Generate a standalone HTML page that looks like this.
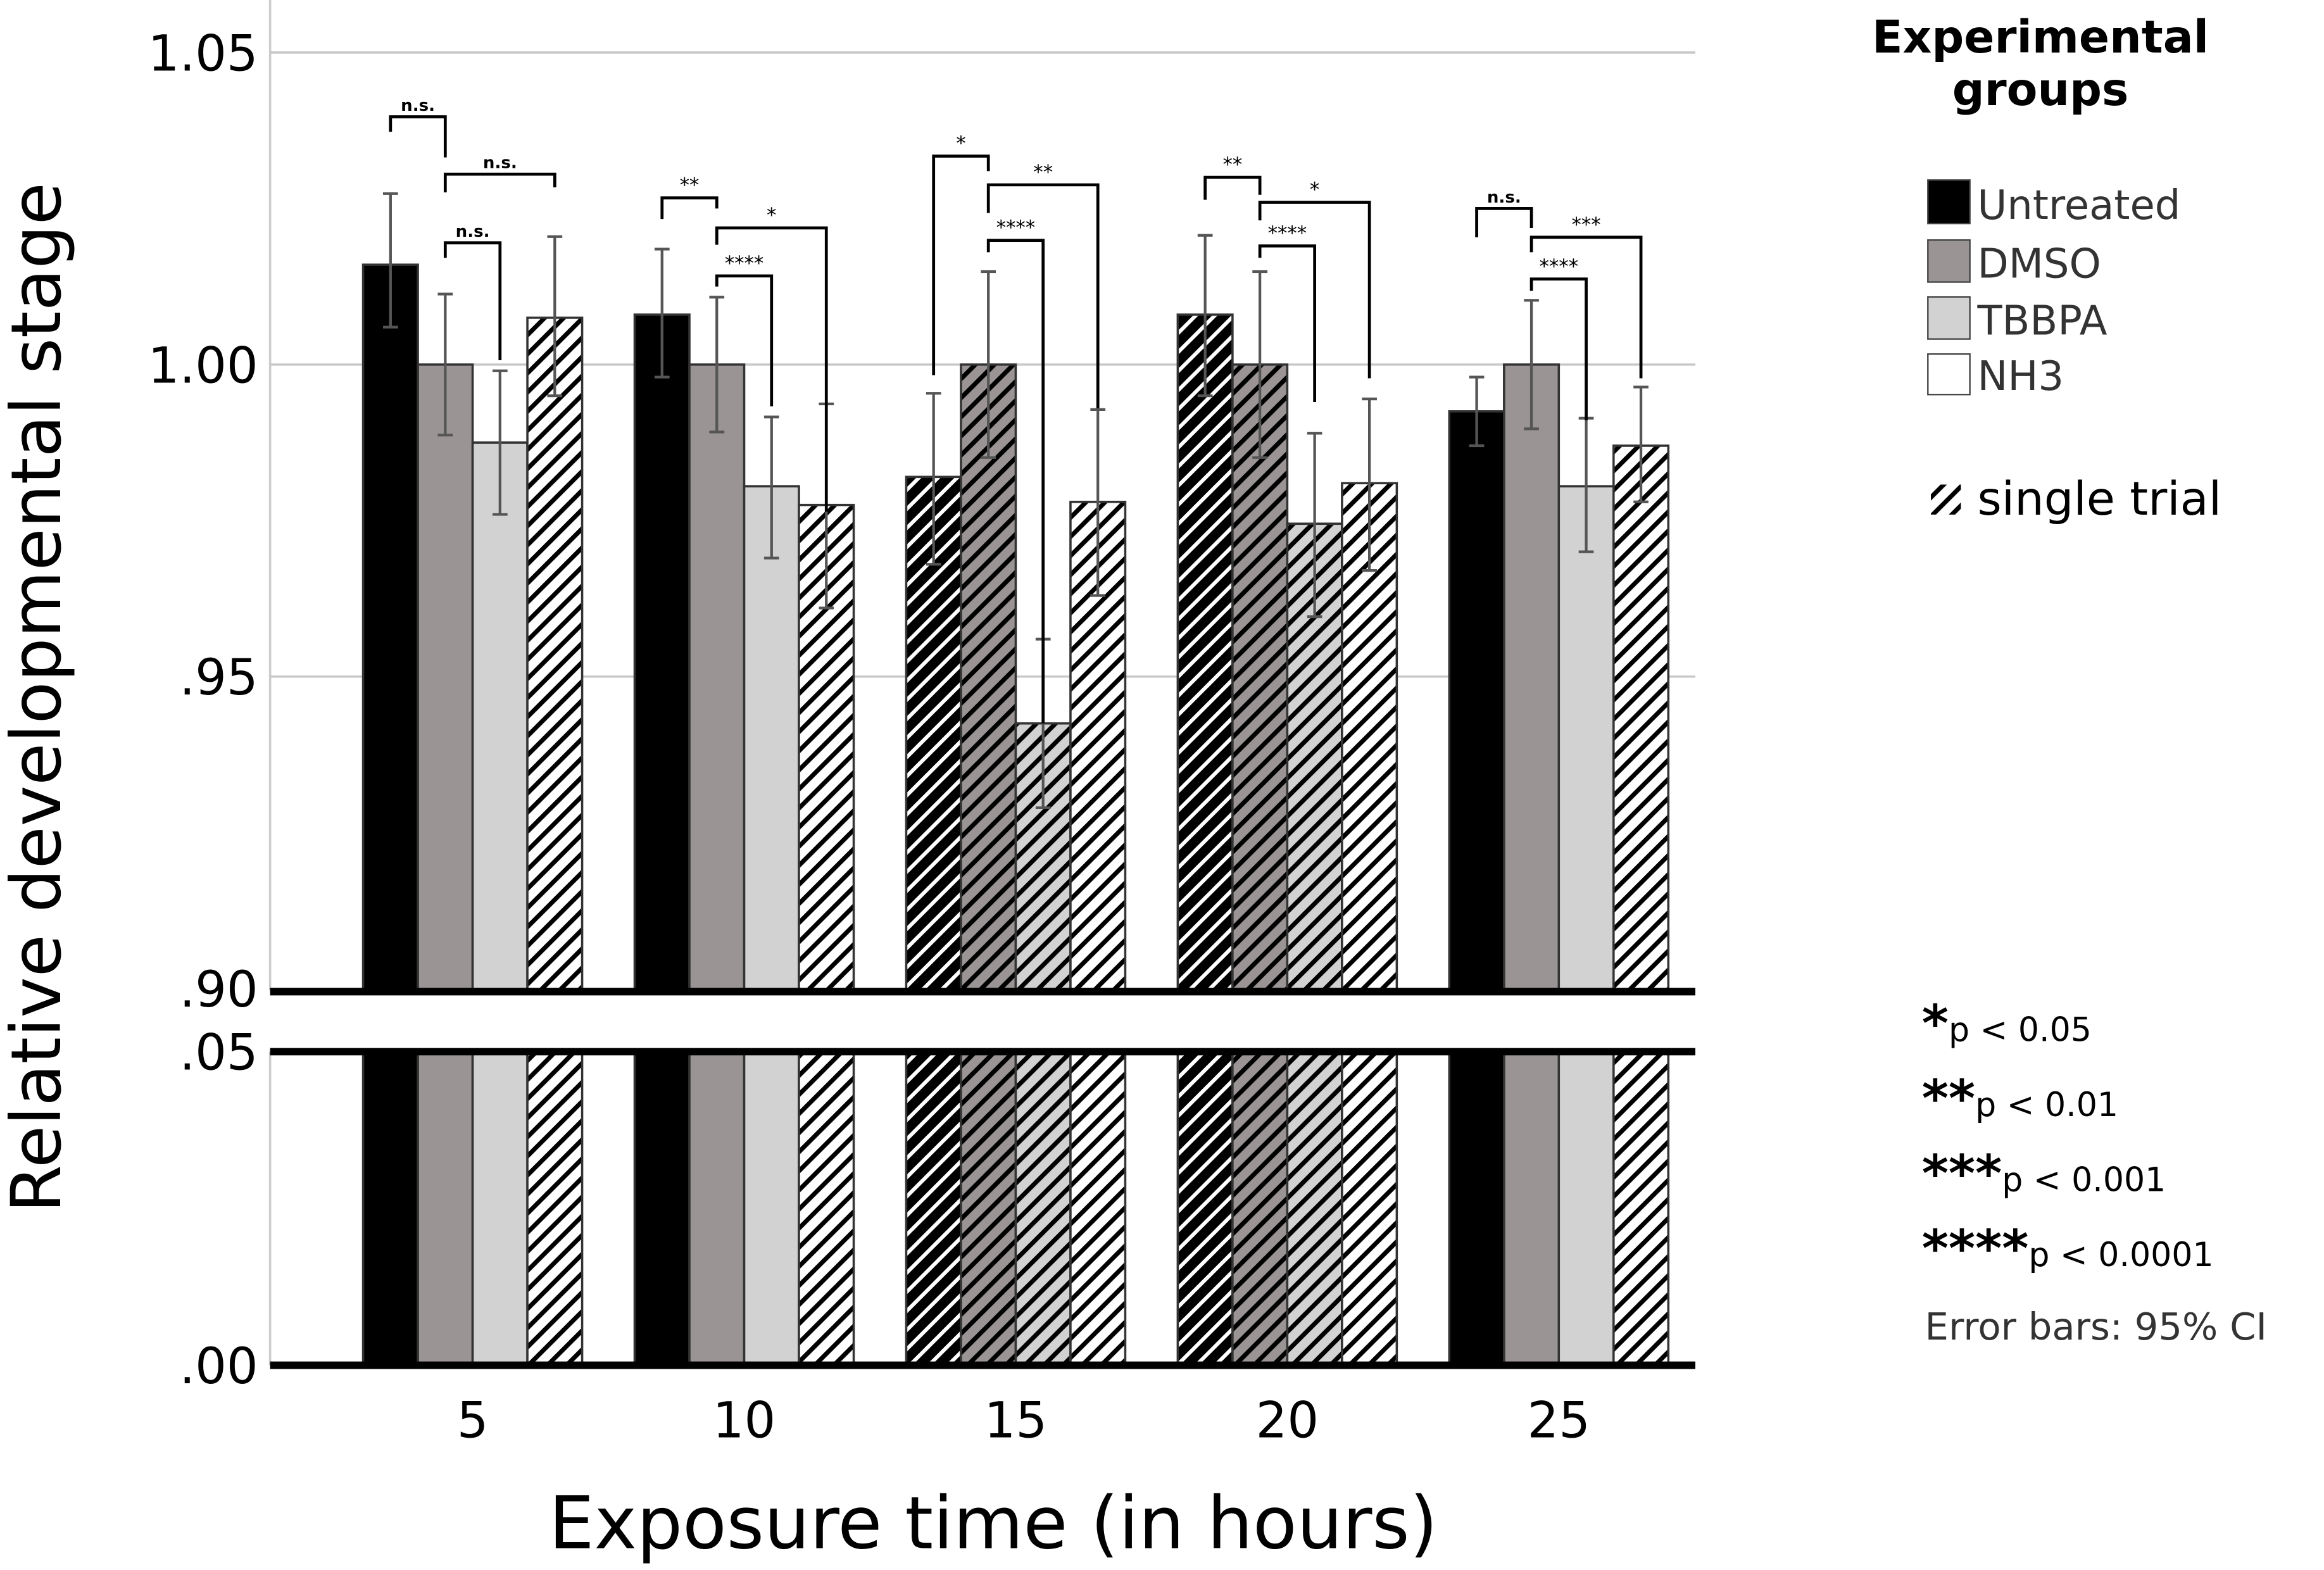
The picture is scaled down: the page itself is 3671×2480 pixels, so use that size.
<!DOCTYPE html>
<html><head><meta charset="utf-8"><style>html,body{margin:0;padding:0;background:#fff}svg{display:block}text{font-family:"DejaVu Sans","Liberation Sans",sans-serif}</style></head>
<body>
<svg id="chart" xmlns="http://www.w3.org/2000/svg" width="3671" height="2480" viewBox="0 0 1549 1046.5">
<defs>
<pattern id="h-black" patternUnits="userSpaceOnUse" width="9" height="9" patternTransform="rotate(45)"><rect width="9" height="9" fill="#000"/><rect x="0" y="0" width="2.5" height="9" fill="#fff"/></pattern>
<pattern id="h-grey" patternUnits="userSpaceOnUse" width="9" height="9" patternTransform="rotate(45)"><rect width="9" height="9" fill="#9a9494"/><rect x="0" y="0" width="3" height="9" fill="#000"/></pattern>
<pattern id="h-light" patternUnits="userSpaceOnUse" width="9" height="9" patternTransform="rotate(45)"><rect width="9" height="9" fill="#d2d2d2"/><rect x="0" y="0" width="3" height="9" fill="#000"/></pattern>
<pattern id="h-white" patternUnits="userSpaceOnUse" width="9" height="9" patternTransform="rotate(45)"><rect width="9" height="9" fill="#fff"/><rect x="0" y="0" width="3" height="9" fill="#000"/></pattern>
</defs>
<g id="grid"></g>
<g id="bars"></g>
<g id="errs"></g>
<g id="sig"></g>
<g id="axes"></g>
<text transform="translate(40,465) rotate(-90)" text-anchor="middle" font-size="46">Relative developmental stage</text>
<text x="662" y="1032" text-anchor="middle" font-size="48">Exposure time (in hours)</text>
<g>
<text x="1360" y="35" text-anchor="middle" font-size="30" font-weight="bold">Experimental</text>
<text x="1360" y="70" text-anchor="middle" font-size="30" font-weight="bold">groups</text>
<rect x="1285" y="120" width="28" height="29" fill="#000" stroke="#444"/>
<text x="1318" y="146" font-size="27" fill="#333" font-family="Liberation Sans">Untreated</text>
<rect x="1285" y="160" width="28" height="28" fill="#9a9494" stroke="#444"/>
<text x="1318" y="185" font-size="27" fill="#333" font-family="Liberation Sans">DMSO</text>
<rect x="1285" y="198" width="28" height="28" fill="#d2d2d2" stroke="#444"/>
<text x="1318" y="223" font-size="27" fill="#333" font-family="Liberation Sans">TBBPA</text>
<rect x="1285" y="236" width="28" height="27" fill="#fff" stroke="#444"/>
<text x="1318" y="260" font-size="27" fill="#333" font-family="Liberation Sans">NH3</text>
<rect x="1287" y="323" width="20" height="20" fill="url(#h-white)"/>
<text x="1318" y="343" font-size="31">single trial</text>
</g>
<g font-size="22">
<text x="1281" y="694"><tspan font-size="34" font-weight="bold">*</tspan>p &lt; 0.05</text>
<text x="1281" y="744"><tspan font-size="34" font-weight="bold">**</tspan>p &lt; 0.01</text>
<text x="1281" y="794"><tspan font-size="34" font-weight="bold">***</tspan>p &lt; 0.001</text>
<text x="1281" y="844"><tspan font-size="34" font-weight="bold">****</tspan>p &lt; 0.0001</text>
<text x="1283" y="893" font-size="25" fill="#333" font-family="Liberation Sans">Error bars: 95% CI</text>
</g>
</svg>
<script>
const categories = ["5","10","15","20","25"];
const groups = ["Untreated","DMSO","TBBPA","NH3"];
const untreated = [1.016, 1.008, 0.982, 1.008, 0.9925];
const dmso = [1.000, 1.000, 1.000, 1.000, 1.000];
const tbbpa = [0.9875, 0.9805, 0.9425, 0.9745, 0.9805];
const nh3 = [1.0075, 0.9775, 0.978, 0.981, 0.987];
const untreatedHi = [1.0274, 1.0185, 0.9954, 1.0207, 0.998];
const untreatedLo = [1.006, 0.998, 0.968, 0.995, 0.987];
const dmsoHi = [1.0113, 1.0108, 1.0149, 1.0149, 1.0103];
const dmsoLo = [0.9887, 0.9892, 0.9851, 0.9851, 0.9897];
const tbbpaHi = [0.999, 0.9916, 0.956, 0.989, 0.9914];
const tbbpaLo = [0.976, 0.969, 0.929, 0.9596, 0.970];
const nh3Hi = [1.0205, 0.9937, 0.9928, 0.9945, 0.9964];
const nh3Lo = [0.995, 0.961, 0.963, 0.967, 0.978];
const singleTrial = [[0,0,0,1],[0,0,0,1],[1,1,1,1],[1,1,1,1],[0,0,0,1]];
const upperTicks = [1.05, 1.00, 0.95, 0.90];
const upperTickLabels = ["1.05","1.00",".95",".90"];
const lowerTickLabels = [".05",".00"];
// brackets: [group, barA, barB, topValue, legAValue, legBValue, label]
const brackets = [
 [0,0,1,1.0397,1.0373,1.0332,"n.s."],[0,1,3,1.0305,1.0276,1.0284,"n.s."],[0,1,2,1.0195,1.0171,1.0007,"n.s."],
 [1,0,1,1.0267,1.0233,1.025,"**"],[1,1,3,1.0219,1.0192,0.9764,"*"],[1,1,2,1.0142,1.0125,0.9933,"****"],
 [2,0,1,1.0334,0.9983,1.031,"*"],[2,1,3,1.0288,1.0243,0.9930,"**"],[2,1,2,1.0199,1.018,0.9425,"****"],
 [3,0,1,1.0300,1.0264,1.0272,"**"],[3,1,3,1.0260,1.0231,0.9978,"*"],[3,1,2,1.0190,1.0171,0.9940,"****"],
 [4,0,1,1.0250,1.0204,1.0219,"n.s."],[4,1,3,1.0204,1.0180,0.9978,"***"],[4,1,2,1.0137,1.0118,0.9911,"****"]
];
const NS="http://www.w3.org/2000/svg";
const yU = v => 243 - (v - 1.0) * 4160;
const yL = v => 910 - v * 4180;
const xLeft=180, xRight=1130, gStart=315, gStep=181, bw=36.5;
const xBar = (g,b) => gStart + g*gStep - 2*bw + b*bw;
function mk(p,tag,attrs){const e=document.createElementNS(NS,tag);for(const k in attrs)e.setAttribute(k,attrs[k]);p.appendChild(e);return e;}
const grid=document.getElementById('grid'),bars=document.getElementById('bars'),errs=document.getElementById('errs'),sig=document.getElementById('sig'),axes=document.getElementById('axes');
mk(grid,'line',{x1:xLeft,x2:xLeft,y1:0,y2:660,stroke:'#ccc','stroke-width':1.5});
mk(grid,'line',{x1:xLeft,x2:xLeft,y1:701,y2:910,stroke:'#ccc','stroke-width':1.5});
upperTicks.forEach((t,i)=>{
 if(i<3){const l=mk(grid,'line',{x1:xLeft,x2:xRight,y1:yU(t),y2:yU(t),stroke:'#c8c8c8','stroke-width':1.5});}
 const tx=mk(axes,'text',{x:172,y:yU(t)+12,'text-anchor':'end','font-size':33});tx.textContent=upperTickLabels[i];
 
 
});
[0.05,0].forEach((t,i)=>{const tx=mk(axes,'text',{x:172,y:yL(t)+12,'text-anchor':'end','font-size':33});tx.textContent=lowerTickLabels[i];
 
 });
const vals=[untreated,dmso,tbbpa,nh3],his=[untreatedHi,dmsoHi,tbbpaHi,nh3Hi],los=[untreatedLo,dmsoLo,tbbpaLo,nh3Lo];
const solid=['#000','#9a9494','#d2d2d2','#fff'],hatch=['url(#h-black)','url(#h-grey)','url(#h-light)','url(#h-white)'];
categories.forEach((c,g)=>{
 groups.forEach((name,b)=>{
  const x=xBar(g,b),fill=singleTrial[g][b]?hatch[b]:solid[b];
  const r=mk(bars,'rect',{x:x,y:yU(vals[b][g]),width:bw,height:660-yU(vals[b][g]),fill:fill,stroke:'#333','stroke-width':1.5});
  
  
  const r2=mk(bars,'rect',{x:x,y:701,width:bw,height:209,fill:fill,stroke:'#333','stroke-width':1.5});
  
  
  const cx=x+bw/2,h=yU(his[b][g]),l=yU(los[b][g]);
  const e=mk(errs,'path',{d:`M${cx},${h}V${l}M${cx-5},${h}H${cx+5}M${cx-5},${l}H${cx+5}`,stroke:'#555','stroke-width':1.8,fill:'none'});
  
  
 });
 const t=mk(axes,'text',{x:gStart+g*gStep,y:958,'text-anchor':'middle','font-size':33});t.textContent=c;
 
 
});
[[661,5],[701,5],[910,5]].forEach(([y,w])=>{mk(axes,'line',{x1:xLeft,x2:xRight,y1:y,y2:y,stroke:'#000','stroke-width':w});});
brackets.forEach(br=>{
 const [g,a,b,top,la,lb,lab]=br;
 const xa=xBar(g,a)+bw/2,xb=xBar(g,b)+bw/2,yt=yU(top);
 const p=mk(sig,'path',{d:`M${xa},${yU(la)}V${yt}H${xb}V${yU(lb)}`,stroke:'#000','stroke-width':2,fill:'none'});
 
 
 const t=mk(sig,'text',{x:(xa+xb)/2,y:yt-4,'text-anchor':'middle','font-size':lab==='n.s.'?11:13,'font-weight':lab==='n.s.'?'bold':'normal'});t.textContent=lab;
 
 
});
</script>
</body></html>
